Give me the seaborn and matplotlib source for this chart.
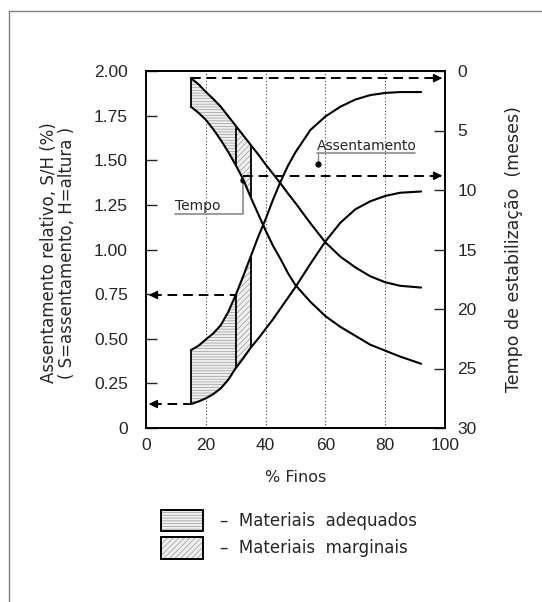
import matplotlib
matplotlib.use("Agg")
import matplotlib.pyplot as plt
import seaborn as sns
from matplotlib.lines import Line2D
from matplotlib.patches import Patch
from matplotlib.legend_handler import HandlerTuple

# % finos (eixo x)
finos = [15, 17.5, 20, 22.5, 25, 27.5, 30, 32.5, 35, 37.5, 40, 42.5, 45, 47.5, 50,
         55, 60, 65, 70, 75, 80, 85, 92]

# assentamento relativo S/H (%) - eixo esquerdo
sh_sup = [0.436, 0.46, 0.496, 0.53, 0.576, 0.65, 0.745, 0.85, 0.96, 1.07, 1.17, 1.28, 1.38,
          1.47, 1.545, 1.67, 1.745, 1.80, 1.84, 1.865, 1.877, 1.882, 1.882]
sh_inf = [0.134, 0.148, 0.166, 0.19, 0.222, 0.27, 0.335, 0.39, 0.45, 0.50, 0.555, 0.61, 0.67,
          0.73, 0.79, 0.92, 1.045, 1.15, 1.225, 1.27, 1.30, 1.318, 1.325]

# tempo de estabilizacao (meses) - eixo direito (invertido)
t_min = [0.6, 1.1, 1.75, 2.35, 3.0, 3.8, 4.6, 5.4, 6.2, 7.0, 7.85, 8.65, 9.45, 10.3, 11.1,
         12.8, 14.4, 15.6, 16.5, 17.25, 17.75, 18.05, 18.2]
t_max = [3.0, 3.5, 4.1, 4.9, 5.8, 6.8, 7.9, 9.1, 10.6, 12.0, 13.4, 14.7, 15.8, 17.0, 18.0,
         19.4, 20.6, 21.5, 22.25, 23.0, 23.5, 24.0, 24.6]

# limites das faixas de materiais (% finos)
lim_adequados = 30
lim_marginais = 35

# pontos de referencia das anotacoes
ponto_tempo = (32.6, 8.8)        # meses
ponto_assent = (57.5, 1.477)     # S/H

yticks_esq = [0, 0.25, 0.5, 0.75, 1.0, 1.25, 1.5, 1.75, 2.0]
yticklabels_esq = ["0", "0.25", "0.50", "0.75", "1.00", "1.25", "1.50", "1.75", "2.00"]
yticks_dir = [0, 5, 10, 15, 20, 25, 30]
xticks = [0, 20, 40, 60, 80, 100]

sns.set_style("white")
plt.rcParams["font.family"] = ["DejaVu Sans"]
plt.rcParams["hatch.linewidth"] = 0.5

W, H = 542, 602
fig = plt.figure(figsize=(W / 100, H / 100), dpi=100)
ax = fig.add_axes([146 / W, 1 - 428 / H, 299 / W, 357 / H])
ax2 = ax.twinx()

# moldura da figura
fig.add_artist(Line2D([9 / W, 9 / W], [0, 1 - 11 / H], color="#808080", lw=1))
fig.add_artist(Line2D([9 / W, 1], [1 - 11 / H, 1 - 11 / H], color="#808080", lw=1))

fill_kw = dict(facecolor="#efefef", edgecolor="#9a9a9a", linewidth=0)
i30 = finos.index(lim_adequados)
i35 = finos.index(lim_marginais)

# faixas hachuradas - assentamento
ax.fill_between(finos[:i30 + 1], sh_inf[:i30 + 1], sh_sup[:i30 + 1], hatch="------", **fill_kw)
ax.fill_between(finos[i30:i35 + 1], sh_inf[i30:i35 + 1], sh_sup[i30:i35 + 1], hatch="//////", **fill_kw)
# faixas hachuradas - tempo
ax2.fill_between(finos[:i30 + 1], t_min[:i30 + 1], t_max[:i30 + 1], hatch="------", **fill_kw)
ax2.fill_between(finos[i30:i35 + 1], t_min[i30:i35 + 1], t_max[i30:i35 + 1], hatch="//////", **fill_kw)

# curvas
for y in (sh_sup, sh_inf):
    sns.lineplot(x=finos, y=y, ax=ax, color="black", lw=1.5)
for y in (t_min, t_max):
    sns.lineplot(x=finos, y=y, ax=ax2, color="black", lw=1.5)

# limites verticais das faixas
for i in (0, i30, i35):
    ax.vlines(finos[i], sh_inf[i], sh_sup[i], color="black", lw=1.3)
    ax2.vlines(finos[i], t_min[i], t_max[i], color="black", lw=1.3)

# grade vertical pontilhada
for x in xticks[1:-1]:
    ax.axvline(x, color="#444444", lw=0.8, ls=(0, (1, 2)), zorder=0.5)

# setas tracejadas
dash = (0, (5, 3))
arrow_kw = dict(arrowstyle="-|>", color="black", lw=1.2, mutation_scale=12)
ax2.plot([finos[0], 98], [t_min[0], t_min[0]], color="black", lw=1.4, ls=dash)
ax2.annotate("", xy=(100, t_min[0]), xytext=(97, t_min[0]), arrowprops=arrow_kw)
ax2.plot([ponto_tempo[0], 98], [ponto_tempo[1]] * 2, color="black", lw=1.4, ls=dash)
ax2.annotate("", xy=(100, ponto_tempo[1]), xytext=(97, ponto_tempo[1]), arrowprops=arrow_kw)
ax.plot([2, finos[i30]], [sh_sup[i30]] * 2, color="black", lw=1.4, ls=dash)
ax.annotate("", xy=(0, sh_sup[i30]), xytext=(3, sh_sup[i30]), arrowprops=arrow_kw)
ax.plot([2, finos[0]], [sh_inf[0]] * 2, color="black", lw=1.4, ls=dash)
ax.annotate("", xy=(0, sh_inf[0]), xytext=(3, sh_inf[0]), arrowprops=arrow_kw)

# anotacoes
ax.text(57.2, 1.555, "Assentamento", fontsize=10)
ax.plot([57.2, 90], [1.538, 1.538], color="#8a8a8a", lw=1.2)
ax.plot([ponto_assent[0]] * 2, [1.538, ponto_assent[1]], color="#8a8a8a", lw=1)
ax.plot(*ponto_assent, "o", color="black", ms=3.5)

ax.text(9.7, 1.22, "Tempo", fontsize=10)
ax.plot([9.7, 32.6, 32.6], [1.197, 1.197, 1.39], color="#8a8a8a", lw=1.2)
ax.plot(32.6, 1.39, "o", color="black", ms=3.5)

# eixos
ax.set_xlim(0, 100)
ax.set_ylim(0, 2.0)
ax2.set_ylim(30, 0)
ax.set_xticks(xticks)
ax.set_xticklabels([str(v) for v in xticks], fontfamily="Liberation Sans", fontsize=12.5)
ax.set_yticks(yticks_esq)
ax.set_yticklabels(yticklabels_esq, fontfamily="Liberation Sans", fontsize=12.5)
ax2.set_yticks(yticks_dir)
ax2.set_yticklabels([str(v) for v in yticks_dir], fontfamily="Liberation Sans", fontsize=12.5)
ax.tick_params(axis="x", length=0, pad=7)
ax.tick_params(axis="y", direction="in", length=8, width=1, pad=13)
ax2.tick_params(axis="y", direction="in", length=8, width=1, pad=9)
for a in (ax, ax2):
    for s in a.spines.values():
        s.set_color("black")
        s.set_linewidth(1.2)

ax.set_xlabel("% Finos", fontsize=11.5, va="center")
ax.xaxis.set_label_coords(0.5, -0.14)
ax.set_ylabel("Assentamento relativo, S/H (%)\n( S=assentamento, H=altura )", fontsize=12,
              va="center", linespacing=1.05)
ax.yaxis.set_label_coords(-0.294, 0.49)
ax2.set_ylabel("Tempo de estabilização  (meses)", fontsize=12.5, va="center", rotation=90)
ax2.yaxis.set_label_coords(1.23, 0.5)

# legenda
h_adeq = (Patch(hatch="------", **fill_kw), Patch(fill=False, edgecolor="black", lw=1.4))
h_marg = (Patch(hatch="//////", **fill_kw), Patch(fill=False, edgecolor="black", lw=1.4))
fig.legend([h_adeq, h_marg], ["–  Materiais  adequados", "–  Materiais  marginais"],
           handler_map={tuple: HandlerTuple(ndivide=1)},
           loc="upper left", bbox_to_anchor=(161 / W, 1 - 510 / H), frameon=False,
           fontsize=12, handlelength=2.55, handleheight=1.6, handletextpad=1.0,
           labelspacing=0.35, borderpad=0, borderaxespad=0)

fig.savefig("out.png", dpi=100)
